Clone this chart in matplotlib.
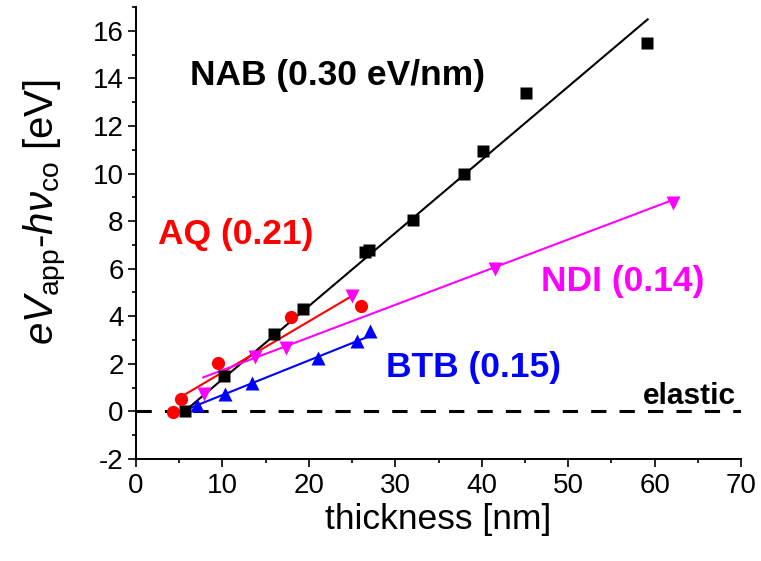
import matplotlib
matplotlib.use("Agg")
import matplotlib.pyplot as plt
from matplotlib.ticker import MultipleLocator

plt.rcParams['font.family'] = ['Liberation Sans', 'DejaVu Sans']
plt.rcParams['mathtext.fontset'] = 'custom'
plt.rcParams['mathtext.rm'] = 'Liberation Sans'
plt.rcParams['mathtext.it'] = 'Liberation Sans:italic'
plt.rcParams['mathtext.bf'] = 'Liberation Sans:bold'
plt.rcParams['axes.unicode_minus'] = False

# ---- data ----
nab_x = [5.7, 10.2, 16.0, 19.3, 26.5, 27.0, 32.1, 38.0, 40.2, 45.1, 59.1]
nab_y = [0.03, 1.49, 3.24, 4.29, 6.7, 6.8, 8.06, 9.99, 10.93, 13.4, 15.5]
nab_fit_x = [5.47, 59.2]
nab_fit_y = [-0.04, 16.48]

aq_x = [4.3, 5.2, 9.5, 17.9, 26.0]
aq_y = [-0.04, 0.52, 2.03, 3.98, 4.43]
aq_fit_x = [5.09, 25.3]
aq_fit_y = [0.59, 4.92]

ndi_x = [7.9, 13.8, 17.4, 25.0, 41.5, 62.1]
ndi_y = [0.73, 2.28, 2.68, 4.85, 5.97, 8.76]
ndi_fit_x = [7.78, 62.7]
ndi_fit_y = [1.43, 8.97]

btb_x = [7.0, 10.3, 13.4, 21.0, 25.6, 27.1]
btb_y = [0.26, 0.73, 1.19, 2.26, 2.96, 3.38]
btb_fit_x = [6.44, 27.05]
btb_fit_y = [0.17, 3.17]

elastic_x = [0, 70]
elastic_y = [0, 0]

labels = {
    'NAB': ("NAB (0.30 eV/nm)", 6.24, 14.14, 'black'),
    'AQ': ("AQ (0.21)", 2.54, 7.44, 'red'),
    'NDI': ("NDI (0.14)", 46.9, 5.48, '#FF00FF'),
    'BTB': ("BTB (0.15)", 28.98, 1.86, '#0000FF'),
}

fig = plt.figure(figsize=(7.61, 5.61), dpi=100)
ax = fig.add_axes([136/761, 1-459/561, 605/761, 452/561])

ax.plot(elastic_x, elastic_y, color='black', lw=2.2, dashes=(5, 4.3), zorder=1)

ax.plot(nab_fit_x, nab_fit_y, color='black', lw=1.5, zorder=2)
ax.plot(aq_fit_x, aq_fit_y, color='red', lw=1.5, zorder=2)
ax.plot(ndi_fit_x, ndi_fit_y, color='#FF00FF', lw=1.5, zorder=2)
ax.plot(btb_fit_x, btb_fit_y, color='#0000FF', lw=1.5, zorder=2)

ax.plot(nab_x, nab_y, 's', color='black', ms=8.5, mec='none', zorder=3)
ax.plot(ndi_x, ndi_y, 'v', color='#FF00FF', ms=10, mec='none', zorder=3)
ax.plot(btb_x, btb_y, '^', color='#0000FF', ms=10, mec='none', zorder=3)
ax.plot(aq_x, aq_y, 'o', color='red', ms=9.5, mec='none', zorder=4)

for key, (txt, x, y, c) in labels.items():
    ax.text(x, y, txt, color=c, fontsize=25.5, fontweight='bold', ha='left', va='center')
ax.text(58.6, 0.64, "elastic", color='black', fontsize=21.5, fontweight='bold', ha='left', va='center')

ax.set_xlim(0, 70)
ax.set_ylim(-2, 17)
ax.xaxis.set_major_locator(MultipleLocator(10))
ax.xaxis.set_minor_locator(MultipleLocator(5))
ax.yaxis.set_major_locator(MultipleLocator(2))
ax.yaxis.set_minor_locator(MultipleLocator(1))
ax.set_yticks(range(-2, 17, 2))

for s in ['top', 'right']:
    ax.spines[s].set_visible(False)
for s in ['left', 'bottom']:
    ax.spines[s].set_linewidth(1.4)

ax.tick_params(which='major', direction='out', length=6, width=1.2, labelsize=20)
ax.tick_params(which='minor', direction='out', length=3, width=1.2)
ax.tick_params(axis='x', which='major', pad=4)
ax.tick_params(axis='y', which='major', pad=3)

ax.set_xlabel("thickness [nm]", fontsize=25.5)
ax.xaxis.set_label_coords(0.5, -0.133)
ax.xaxis.label.set_va('center')
ax.set_ylabel(r"$eV_{\mathrm{app}}$-$h\nu_{\mathrm{co}}$ [eV]", fontsize=29)
ax.yaxis.set_label_coords(-0.150, 0.546)
ax.yaxis.label.set_va('center')

fig.savefig("out.png", dpi=100)
